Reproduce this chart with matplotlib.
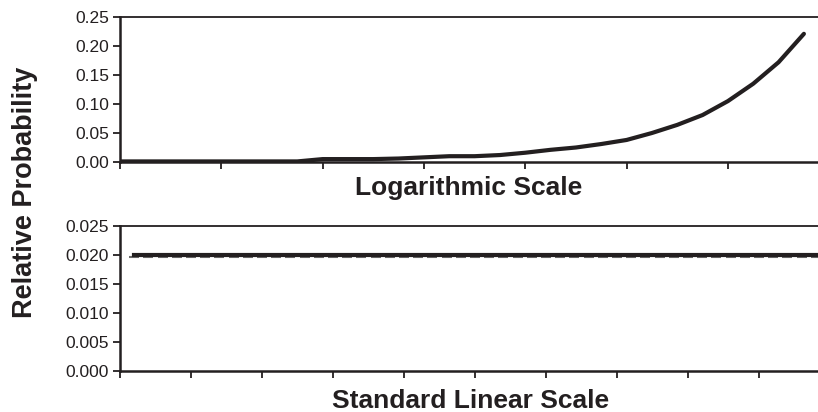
import matplotlib
matplotlib.use("Agg")
import matplotlib.pyplot as plt
import matplotlib.transforms as mtransforms
from matplotlib.ticker import MultipleLocator, FormatStrFormatter

plt.rcParams['font.family'] = ['Liberation Sans', 'DejaVu Sans']

# logarithmic scale curve (28 bins)
log_probs = [0.001, 0.001, 0.001, 0.001, 0.001, 0.001, 0.001, 0.001,
             0.005, 0.005, 0.005, 0.006, 0.008, 0.010, 0.010, 0.012,
             0.016, 0.021, 0.025, 0.031, 0.038, 0.050, 0.064, 0.081,
             0.105, 0.135, 0.172, 0.221]
log_x = list(range(len(log_probs)))

# standard linear scale: 50 equal bins
linear_probs = [0.02, 0.02, 0.02, 0.02, 0.02, 0.02, 0.02, 0.02, 0.02, 0.02,
                0.02, 0.02, 0.02, 0.02, 0.02, 0.02, 0.02, 0.02, 0.02, 0.02,
                0.02, 0.02, 0.02, 0.02, 0.02, 0.02, 0.02, 0.02, 0.02, 0.02,
                0.02, 0.02, 0.02, 0.02, 0.02, 0.02, 0.02, 0.02, 0.02, 0.02,
                0.02, 0.02, 0.02, 0.02, 0.02, 0.02, 0.02, 0.02, 0.02, 0.02]
linear_x = list(range(1, len(linear_probs) + 1))

ink = '#231f20'
W, H = 818, 412
fig = plt.figure(figsize=(W / 100, H / 100), dpi=100)


def style_axis(ax):
    for side in ['left', 'bottom']:
        ax.spines[side].set_linewidth(1.8)
        ax.spines[side].set_color(ink)
    ax.spines['top'].set_linewidth(1.3)
    ax.spines['top'].set_color(ink)
    ax.spines['right'].set_visible(False)
    ax.tick_params(axis='both', direction='out', length=5, width=1.3, color=ink,
                   labelsize=12.5, labelcolor=ink, pad=3)
    ax.tick_params(axis='x', labelbottom=False)


# top panel
ax1 = fig.add_axes([120 / W, 1 - 162 / H, 28 * 25.33 / W, 145 / H])
ax1.plot(log_x, log_probs, color=ink, lw=3.0, solid_capstyle='round')
ax1.set_xlim(0, 28)
ax1.set_ylim(0, 0.25)
ax1.xaxis.set_major_locator(MultipleLocator(4))
ax1.yaxis.set_major_locator(MultipleLocator(0.05))
ax1.yaxis.set_major_formatter(FormatStrFormatter('%.2f'))
style_axis(ax1)

# bottom panel
ax2 = fig.add_axes([120 / W, 1 - 371 / H, 50.5 * 14.2 / W, 145 / H])
shifted = mtransforms.offset_copy(ax2.transData, fig=fig, x=0, y=-1.6, units='points')
ax2.plot(linear_x, linear_probs, color='#6a6a6a', lw=0, marker='_', markersize=6.5,
         markeredgewidth=1.5, transform=shifted)
ax2.plot(linear_x, linear_probs, color=ink, lw=3.0)
ax2.set_xlim(0, 50.5)
ax2.set_ylim(0, 0.025)
ax2.xaxis.set_major_locator(MultipleLocator(5))
ax2.yaxis.set_major_locator(MultipleLocator(0.005))
ax2.yaxis.set_major_formatter(FormatStrFormatter('%.3f'))
style_axis(ax2)

fig.text(469 / W, 1 - 188 / H, 'Logarithmic Scale', ha='center', va='center',
         fontsize=19, fontweight='bold', color=ink)
fig.text(471 / W, 1 - 401 / H, 'Standard Linear Scale', ha='center', va='center',
         fontsize=19, fontweight='bold', color=ink)
fig.text(25 / W, 1 - 192 / H, 'Relative Probability', ha='center', va='center',
         rotation=90, fontsize=19.5, fontweight='bold', color=ink)

fig.savefig('out.png', dpi=100)
